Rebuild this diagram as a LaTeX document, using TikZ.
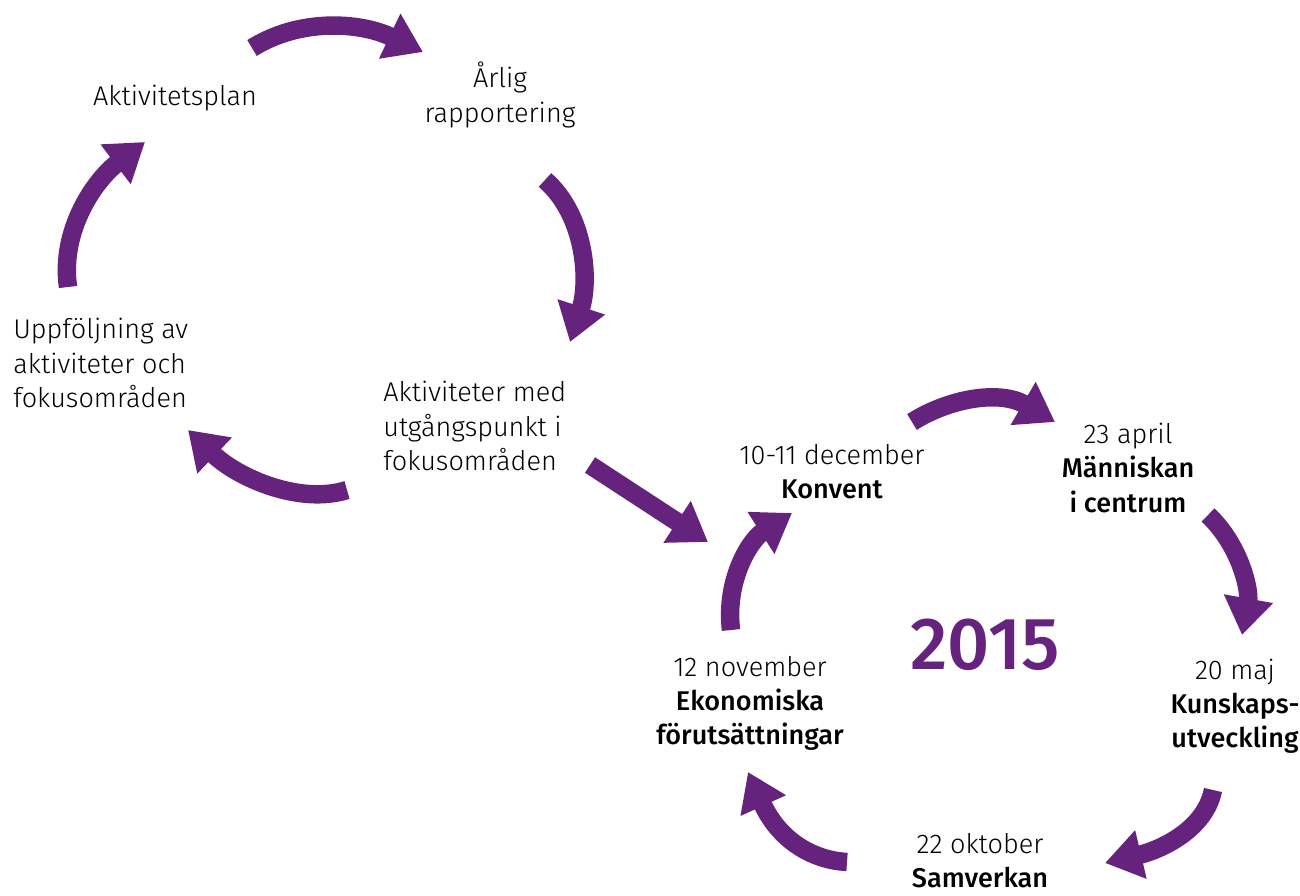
\documentclass[tikz,border=0pt]{standalone}
\usepackage{fontspec}
\setmainfont{Fira Sans Light}[BoldFont={Fira Sans Medium}]
\usetikzlibrary{arrows.meta}
\definecolor{lila}{RGB}{101,35,126}

\begin{document}
\begin{tikzpicture}[x=0.02cm,y=-0.02cm,
  txt/.style={align=center,font=\fontsize{15.4}{19.4}\selectfont,inner sep=0pt},
  cyc/.style={line width=10.5pt,draw=lila,-{Triangle[width=27pt,length=21pt]}}]
  \useasboundingbox (0,0) rectangle (1300,895);

  % left cycle
  \node[txt] (plan) at (175,98) {Aktivitetsplan};
  \node[txt] (rapp) at (500,95) {Årlig\\rapportering};
  \node[txt,align=left,anchor=west] (uppf) at (13,363) {Uppföljning av\\aktiviteter och\\fokusområden};
  \node[txt,align=left,anchor=west] (akt) at (383,426) {Aktiviteter med\\utgångspunkt i\\fokusområden};

  \coordinate (a1s) at (252,48);   \coordinate (a1e) at (423,52);
  \coordinate (a2s) at (545,180);  \coordinate (a2e) at (570,342);
  \coordinate (a3s) at (347,490);  \coordinate (a3e) at (188,430);
  \coordinate (a4s) at (68,287);   \coordinate (a4e) at (145,142);
  \coordinate (a5s) at (590,465);  \coordinate (a5e) at (708,542);

  \draw[cyc] (a1s) .. controls (300,18) and (360,22) .. (a1e);
  \draw[cyc] (a2s) .. controls (585,215) and (590,280) .. (a2e);
  \draw[cyc] (a3s) .. controls (300,505) and (238,478) .. (a3e);
  \draw[cyc] (a4s) .. controls (60,230) and (95,180) .. (a4e);
  \draw[cyc] (a5s) -- (a5e);

  % 2015
  \node[txt] (konv) at (832,472) {10-11 december\\\textbf{Konvent}};
  \node[txt] (april) at (1128,468) {23 april\\\textbf{Människan}\\\textbf{i centrum}};
  \node[txt] (maj) at (1235,706) {20 maj\\\textbf{Kunskaps-}\\\textbf{utveckling}};
  \node[txt] (okt) at (980,861) {22 oktober\\\textbf{Samverkan}};
  \node[txt] (nov) at (750,703) {12 november\\\textbf{Ekonomiska}\\\textbf{förutsättningar}};
  \node[font=\fontsize{42}{42}\selectfont\bfseries,text=lila] (year) at (985,645) {2015};

  \coordinate (b1s) at (912,422);  \coordinate (b1e) at (1055,422);
  \coordinate (b2s) at (1208,515); \coordinate (b2e) at (1242,635);
  \coordinate (b3s) at (1213,790); \coordinate (b3e) at (1105,863);
  \coordinate (b4s) at (847,862);  \coordinate (b4e) at (748,772);
  \coordinate (b5s) at (731,630);  \coordinate (b5e) at (792,513);

  \draw[cyc] (b1s) .. controls (950,398) and (1000,390) .. (b1e);
  \draw[cyc] (b2s) .. controls (1240,545) and (1250,590) .. (b2e);
  \draw[cyc] (b3s) .. controls (1205,830) and (1160,850) .. (b3e);
  \draw[cyc] (b4s) .. controls (810,860) and (778,838) .. (b4e);
  \draw[cyc] (b5s) .. controls (725,580) and (750,540) .. (b5e);
\end{tikzpicture}
\end{document}
